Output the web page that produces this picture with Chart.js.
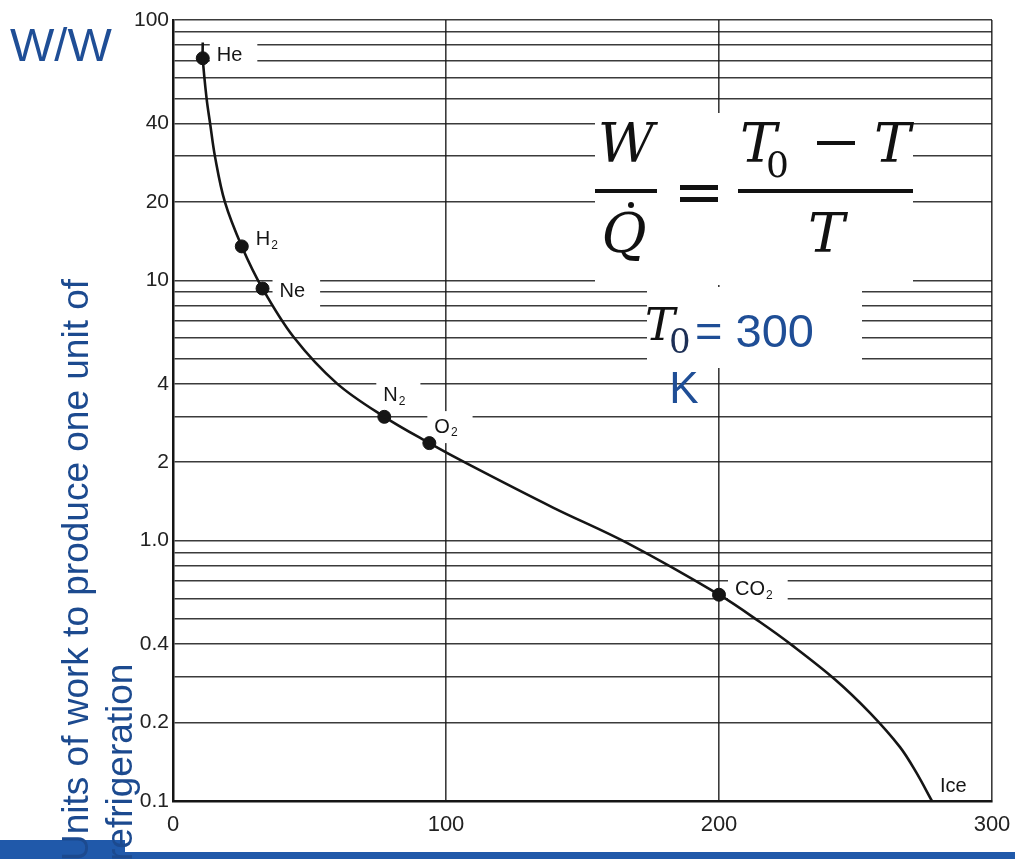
<!DOCTYPE html>
<html>
<head>
<meta charset="utf-8">
<script src="https://cdn.jsdelivr.net/npm/chart.js@4.4.1/dist/chart.umd.min.js"></script>
<style>
  html, body { margin: 0; padding: 0; background: #fff; }
  canvas { display: block; }
</style>
</head>
<body>
<canvas id="chart" width="1015" height="859"></canvas>
<script>
// Courbe W/Q en fonction de la température
const curveTemps  = [10.9, 10.9, 12.3, 13.6, 15.4, 19.0, 25.2, 32.8, 44.1, 60, 77.4, 93.9, 107.6, 139.2, 166.3, 200, 215, 226.7, 242.5, 255.3, 266.3, 272.2, 278];
const curveValues = [82, 71.3, 50, 40, 29.8, 20, 13.5, 9.3, 6.07, 4.02, 2.99, 2.37, 1.98, 1.34, 0.98, 0.62, 0.487, 0.397, 0.293, 0.218, 0.161, 0.129, 0.1];

// Points des gaz
const gasNames  = ['He', 'H2', 'Ne', 'N2', 'O2', 'CO2'];
const gasTemps  = [10.9, 25.2, 32.8, 77.4, 93.9, 200];
const gasValues = [71.3, 13.5, 9.3, 2.99, 2.37, 0.62];

// Graduations
const xTicks = [0, 100, 200, 300];
const yGrid = [0.1, 0.2, 0.3, 0.4, 0.5, 0.6, 0.7, 0.8, 0.9,
               1, 2, 3, 4, 5, 6, 7, 8, 9,
               10, 20, 30, 40, 50, 60, 70, 80, 90, 100];
const yLabelValues = [0.1, 0.2, 0.4, 1, 2, 4, 10, 20, 40, 100];
const yLabelTexts  = ['0.1', '0.2', '0.4', '1.0', '2', '4', '10', '20', '40', '100'];

// Style des étiquettes (décalages en pixels par rapport au point)
const labelOffsets = [[14, -3], [14, -7], [17, 3], [-1, -21], [5, -16], [16, -5]];
const iceOffset = [8, -15];

const BLUE = '#1F4E96';
const INK = '#151515';
const GRID = 'rgba(25,25,25,0.85)';

function drawChem(ctx, name, x, y) {
    // dessine un nom avec le chiffre final en indice
    const m = name.match(/^(.*?)(\d*)$/);
    ctx.font = '20px "Liberation Sans", Arial, sans-serif';
    ctx.textBaseline = 'middle';
    ctx.textAlign = 'left';
    ctx.fillText(m[1], x, y);
    const w = ctx.measureText(m[1]).width;
    if (m[2]) {
        ctx.font = '12px "Liberation Sans", Arial, sans-serif';
        ctx.fillText(m[2], x + w + 1, y + 6);
    }
}

function labelWidth(ctx, name) {
    const m = name.match(/^(.*?)(\d*)$/);
    ctx.font = '20px "Liberation Sans", Arial, sans-serif';
    let w = ctx.measureText(m[1]).width;
    if (m[2]) {
        ctx.font = '12px "Liberation Sans", Arial, sans-serif';
        w += 1 + ctx.measureText(m[2]).width;
    }
    return w;
}

const overlayPlugin = {
    id: 'overlay',
    beforeDraw(chart) {
        const ctx = chart.ctx;
        ctx.save();
        ctx.fillStyle = '#fff';
        ctx.fillRect(0, 0, chart.width, chart.height);
        ctx.restore();
    },
    beforeDatasetsDraw(chart) {
        // masques blancs qui coupent la grille sous les textes
        const ctx = chart.ctx;
        const xs = chart.scales.x, ys = chart.scales.y;
        ctx.save();
        ctx.fillStyle = '#fff';
        gasNames.forEach((name, i) => {
            const px = xs.getPixelForValue(gasTemps[i]) + labelOffsets[i][0];
            const py = ys.getPixelForValue(gasValues[i]) + labelOffsets[i][1];
            const w = labelWidth(ctx, name);
            ctx.fillRect(px - 7, py - 16, w + 22, 32);
        });
        ctx.fillRect(595, 113, 318, 172);
        ctx.fillRect(647, 287, 215, 81);
        ctx.restore();
    },
    afterDatasetsDraw(chart) {
        const ctx = chart.ctx;
        const xs = chart.scales.x, ys = chart.scales.y;
        ctx.save();
        ctx.fillStyle = INK;
        gasNames.forEach((name, i) => {
            const px = xs.getPixelForValue(gasTemps[i]) + labelOffsets[i][0];
            const py = ys.getPixelForValue(gasValues[i]) + labelOffsets[i][1];
            drawChem(ctx, name, px, py);
        });
        const last = curveTemps.length - 1;
        drawChem(ctx, 'Ice',
            xs.getPixelForValue(curveTemps[last]) + iceOffset[0],
            ys.getPixelForValue(curveValues[last]) + iceOffset[1]);

        // Formule W/Q = (T0 - T)/T
        const serifIt = 'italic 55px "DejaVu Serif", serif';
        ctx.fillStyle = '#111';
        ctx.textBaseline = 'alphabetic';
        ctx.font = serifIt;
        ctx.textAlign = 'center';
        ctx.fillText('W', 626, 162);
        ctx.fillText('Q', 624, 252);
        ctx.beginPath();
        ctx.arc(631, 205, 3, 0, Math.PI * 2);
        ctx.fill();
        ctx.fillRect(595, 189, 62, 4);
        ctx.fillRect(680, 185, 38, 5);
        ctx.fillRect(680, 197, 38, 5);
        ctx.fillRect(738, 189, 175, 4);
        ctx.textAlign = 'left';
        ctx.fillText('T', 740, 162);
        ctx.font = '36px "DejaVu Serif", serif';
        ctx.fillText('0', 766, 177);
        ctx.fillRect(817, 141, 38, 4);
        ctx.font = serifIt;
        ctx.fillText('T', 874, 162);
        ctx.fillText('T', 808, 252);

        // T0 = 300 K
        ctx.font = 'italic 45px "DejaVu Serif", serif';
        ctx.fillText('T', 645, 340);
        ctx.fillStyle = '#1d2f55';
        ctx.font = '34px "DejaVu Serif", serif';
        ctx.fillText('0', 669, 353);
        ctx.fillStyle = BLUE;
        ctx.font = '47px "Liberation Sans", Arial, sans-serif';
        ctx.fillText('= 300', 695, 347);
        ctx.textAlign = 'center';
        ctx.font = '44px "Liberation Sans", Arial, sans-serif';
        ctx.fillText('K', 684, 403);
        ctx.restore();
    },
    afterDraw(chart) {
        const ctx = chart.ctx;
        ctx.save();
        // bandeau bleu en bas
        ctx.fillStyle = '#2059AA';
        ctx.fillRect(0, 840, 125, 19);
        ctx.fillRect(0, 852, chart.width, 7);

        // W/W
        ctx.fillStyle = BLUE;
        ctx.font = '47px "Liberation Sans", Arial, sans-serif';
        ctx.textAlign = 'left';
        ctx.textBaseline = 'alphabetic';
        ctx.fillText('W/W', 10, 61);

        // titre vertical
        ctx.fillStyle = '#1C4A8F';
        ctx.font = '37px "Liberation Sans", Arial, sans-serif';
        ctx.translate(88, 861);
        ctx.rotate(-Math.PI / 2);
        ctx.fillText('Units of work to produce one unit of', 0, 0);
        ctx.fillText('refrigeration', 0, 44);
        ctx.restore();
    }
};

document.addEventListener('DOMContentLoaded', function() {
    const ctx = document.getElementById('chart').getContext('2d');

    const curveData = curveTemps.map((t, i) => ({ x: t, y: curveValues[i] }));
    const gasData = gasTemps.map((t, i) => ({ x: t, y: gasValues[i] }));

    new Chart(ctx, {
        type: 'scatter',
        data: {
            datasets: [{
                label: 'W/Q',
                data: curveData,
                showLine: true,
                borderColor: INK,
                borderWidth: 2.6,
                pointRadius: 0,
                tension: 0.35,
                fill: false
            }, {
                label: 'Gaz',
                data: gasData,
                pointRadius: 6.5,
                pointBackgroundColor: INK,
                pointBorderColor: INK,
                showLine: false
            }]
        },
        options: {
            responsive: false,
            animation: false,
            layout: { padding: { top: 20, right: 23, left: 0, bottom: 0 } },
            plugins: {
                legend: { display: false },
                tooltip: { enabled: false }
            },
            scales: {
                x: {
                    type: 'linear',
                    min: 0,
                    max: 300,
                    afterBuildTicks: function(scale) {
                        scale.ticks = xTicks.map(v => ({ value: v }));
                    },
                    afterFit: function(scale) {
                        scale.height = 58;
                        scale.paddingLeft = 0;
                        scale.paddingRight = 0;
                    },
                    grid: { color: GRID, lineWidth: 1.6, drawTicks: false },
                    border: { display: true, color: INK, width: 2.5 },
                    ticks: {
                        padding: 11,
                        color: '#222',
                        font: { family: '"Liberation Sans", Arial, sans-serif', size: 22 },
                        callback: v => String(v)
                    }
                },
                y: {
                    type: 'logarithmic',
                    min: 0.1,
                    max: 100,
                    afterBuildTicks: function(scale) {
                        scale.ticks = yGrid.map(v => ({ value: v }));
                    },
                    afterFit: function(scale) {
                        scale.width = 173;
                        scale.paddingTop = 0;
                        scale.paddingBottom = 0;
                    },
                    grid: { color: GRID, lineWidth: 1.6, drawTicks: false },
                    border: { display: true, color: INK, width: 2.5 },
                    ticks: {
                        autoSkip: false,
                        padding: 4,
                        color: '#222',
                        font: { family: '"Liberation Sans", Arial, sans-serif', size: 21 },
                        callback: function(value) {
                            const idx = yLabelValues.findIndex(v => Math.abs(v - value) < 1e-9);
                            return idx >= 0 ? yLabelTexts[idx] : '';
                        }
                    }
                }
            }
        },
        plugins: [overlayPlugin]
    });
});
</script>
</body>
</html>
